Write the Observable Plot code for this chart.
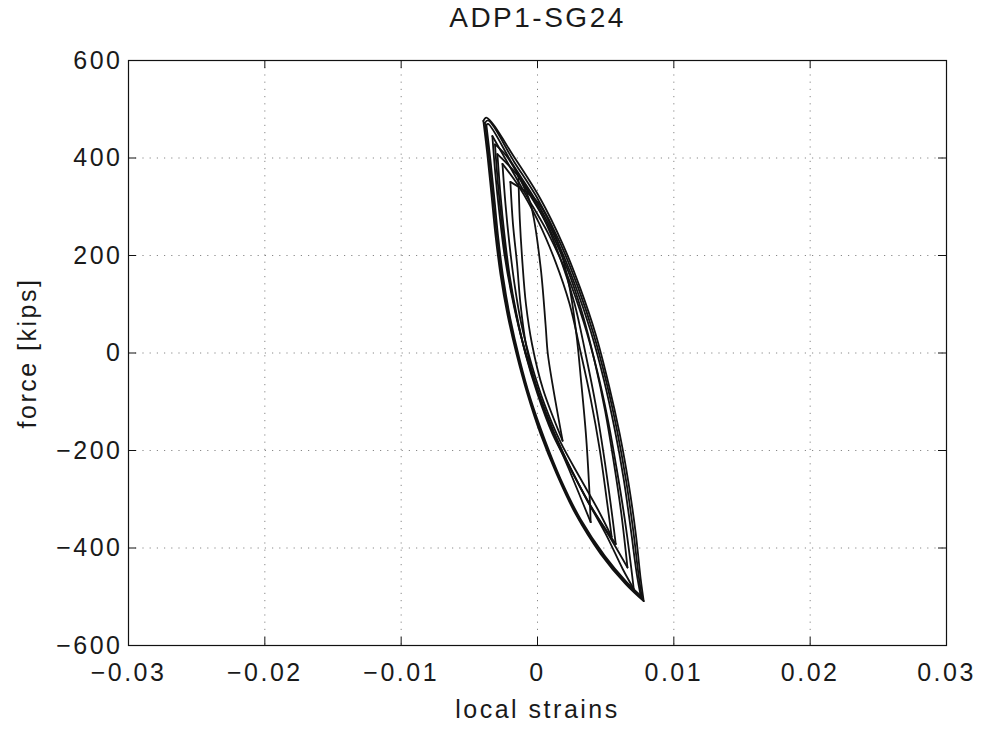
<!DOCTYPE html>
<html>
<head>
<meta charset="utf-8">
<script src="https://cdn.jsdelivr.net/npm/d3@7"></script>
<script src="https://cdn.jsdelivr.net/npm/@observablehq/plot@0.6"></script>
<style>
  html, body { margin: 0; padding: 0; background: #fff; }
  #chart svg text { letter-spacing: 2.5px; }
</style>
</head>
<body>
<div id="chart"></div>
<script>
// ---- labels ----
const title = "ADP1-SG24";
const xLabel = "local strains";
const yLabel = "force [kips]";
const xTicks = [-0.03, -0.02, -0.01, 0, 0.01, 0.02, 0.03];
const yTicks = [-600, -400, -200, 0, 200, 400, 600];

// ---- hysteresis loops: [strain, force], branch "down" then "up" ----
const loop1Down = [[-0.00397,476],[-0.00368,408],[-0.00338,326],[-0.00309,244],[-0.00272,162],[-0.00221,80],[-0.00154,-2],[-0.00074,-84],[0.00022,-166],[0.00140,-248],[0.00279,-330],[0.00463,-412],[0.00647,-474],[0.00779,-509]];
const loop1Up   = [[0.00779,-509],[0.00757,-464],[0.00721,-371],[0.00669,-269],[0.00603,-166],[0.00522,-64],[0.00426,39],[0.00316,131],[0.00184,224],[0.00022,316],[-0.00162,398],[-0.00375,483],[-0.00397,476]];

const loop8Down = [[-0.00386,472],[-0.00357,403],[-0.00327,321],[-0.00298,239],[-0.00261,157],[-0.00210,75],[-0.00143,-7],[-0.00062,-89],[0.00036,-171],[0.00155,-253],[0.00297,-336],[0.00478,-414],[0.00650,-472],[0.00768,-504]];
const loop8Up   = [[0.00768,-504],[0.00743,-459],[0.00703,-366],[0.00651,-264],[0.00585,-161],[0.00504,-58],[0.00408,42],[0.00298,134],[0.00166,226],[0.00004,315],[-0.00173,393],[-0.00362,477],[-0.00386,472]];

const loop2Down = [[-0.00375,468],[-0.00346,398],[-0.00316,316],[-0.00287,234],[-0.00250,152],[-0.00199,70],[-0.00132,-12],[-0.00051,-94],[0.00051,-176],[0.00169,-258],[0.00316,-341],[0.00493,-416],[0.00654,-470],[0.00757,-498]];
const loop2Up   = [[0.00757,-498],[0.00728,-453],[0.00684,-361],[0.00632,-258],[0.00566,-156],[0.00485,-53],[0.00390,45],[0.00279,137],[0.00147,228],[-0.00015,314],[-0.00184,388],[-0.00362,470],[-0.00375,468]];

const loop3Down = [[-0.00331,445],[-0.00309,367],[-0.00279,285],[-0.00243,203],[-0.00191,121],[-0.00125,39],[-0.00037,-43],[0.00066,-125],[0.00191,-207],[0.00338,-289],[0.00500,-371],[0.00625,-443],[0.00706,-484]];
const loop3Up   = [[0.00706,-484],[0.00684,-433],[0.00640,-341],[0.00581,-238],[0.00515,-135],[0.00434,-33],[0.00338,64],[0.00221,158],[0.00081,244],[-0.00088,326],[-0.00235,398],[-0.00331,445]];

const loop9Down = [[-0.00312,428],[-0.00290,347],[-0.00261,265],[-0.00225,183],[-0.00173,101],[-0.00107,19],[-0.00019,-63],[0.00088,-145],[0.00217,-222],[0.00371,-305],[0.00540,-382],[0.00660,-440]];
const loop9Up   = [[0.00660,-440],[0.00615,-330],[0.00560,-225],[0.00497,-120],[0.00420,-18],[0.00330,80],[0.00215,175],[0.00075,262],[-0.00090,340],[-0.00230,405],[-0.00312,428]];

const loop4Down = [[-0.00294,408],[-0.00272,326],[-0.00243,244],[-0.00206,162],[-0.00154,80],[-0.00088,-2],[0.00000,-84],[0.00110,-166],[0.00243,-238],[0.00404,-320],[0.00574,-392]];
const loop4Up   = [[0.00574,-392],[0.00537,-310],[0.00485,-207],[0.00426,-105],[0.00353,-2],[0.00272,101],[0.00169,193],[0.00037,281],[-0.00125,357],[-0.00294,408]];

const loop5Down = [[-0.00257,388],[-0.00235,306],[-0.00206,224],[-0.00169,142],[-0.00118,59],[-0.00044,-23],[0.00051,-105],[0.00169,-183],[0.00316,-258],[0.00441,-320],[0.00544,-377]];
const loop5Up   = [[0.00544,-377],[0.00507,-299],[0.00456,-197],[0.00390,-94],[0.00316,2],[0.00235,101],[0.00132,187],[0.00007,269],[-0.00140,343],[-0.00257,388]];

const loop6Down = [[-0.00199,351],[-0.00180,265],[-0.00150,183],[-0.00125,101],[-0.00085,18],[-0.00015,-64],[0.00090,-146],[0.00230,-238],[0.00390,-347]];
const loop6Up   = [[0.00390,-347],[0.00378,-269],[0.00355,-166],[0.00322,-64],[0.00285,39],[0.00230,142],[0.00140,234],[0.00000,310],[-0.00199,351]];

const loop7Down = [[-0.00140,363],[-0.00130,275],[-0.00110,183],[-0.00085,101],[-0.00040,18],[0.00040,-74],[0.00184,-180]];
const loop7Up   = [[0.00184,-180],[0.00110,-64],[0.00075,0],[0.00059,59],[0.00020,183],[-0.00051,306],[-0.00140,363]];

const branches = {
  "1d": loop1Down, "1u": loop1Up, "8d": loop8Down, "8u": loop8Up,
  "2d": loop2Down, "2u": loop2Up, "3d": loop3Down, "3u": loop3Up,
  "9d": loop9Down, "9u": loop9Up, "4d": loop4Down, "4u": loop4Up,
  "5d": loop5Down, "5u": loop5Up, "6d": loop6Down, "6u": loop6Up,
  "7d": loop7Down, "7u": loop7Up
};
const rows = [];
for (const [k, pts] of Object.entries(branches)) {
  for (const [x, y] of pts) rows.push({branch: k, x, y});
}

const fmt = d => d === 0 ? "0" : (d < 0 ? "\u2212" : "") + Math.abs(d).toFixed(2);
const fmtY = d => d === 0 ? "0" : (d < 0 ? "\u2212" : "") + Math.abs(d);

const W = 988, H = 730, mL = 128, mR = 42, mT = 60, mB = 85;
const tickLen = 8;
const innerW = W - mL - mR, innerH = H - mT - mB;

const chart = Plot.plot({
  width: W,
  height: H,
  marginLeft: mL,
  marginRight: mR,
  marginTop: mT,
  marginBottom: mB,
  style: {fontFamily: "'Liberation Sans', Arial, Helvetica, sans-serif", fontSize: "25px", color: "#1a1a1a", background: "#fff"},
  x: {domain: [-0.03, 0.03]},
  y: {domain: [-600, 600]},
  marks: [
    Plot.gridX(xTicks, {stroke: "#555", strokeOpacity: 0.7, strokeDasharray: "1.2,6"}),
    Plot.gridY(yTicks, {stroke: "#555", strokeOpacity: 0.7, strokeDasharray: "1.2,6"}),
    Plot.line(rows, {x: "x", y: "y", z: "branch", stroke: "#111", strokeWidth: 1.8, curve: "catmull-rom"}),
    Plot.frame({stroke: "#111", strokeWidth: 1.2}),
    // inward ticks on all four sides
    Plot.tickX(xTicks, {x: d => d, insetTop: innerH - tickLen, stroke: "#111"}),
    Plot.tickX(xTicks, {x: d => d, insetBottom: innerH - tickLen, stroke: "#111"}),
    Plot.tickY(yTicks, {y: d => d, insetRight: innerW - tickLen, stroke: "#111"}),
    Plot.tickY(yTicks, {y: d => d, insetLeft: innerW - tickLen, stroke: "#111"}),
    // tick labels and axis titles
    Plot.axisX(xTicks, {anchor: "bottom", tickSize: 0, tickPadding: 18, tickFormat: fmt, fontSize: 25,
      label: xLabel, labelAnchor: "center", labelOffset: 72, labelArrow: "none"}),
    Plot.axisY(yTicks, {anchor: "left", tickSize: 0, tickPadding: 6, tickFormat: fmtY, fontSize: 25,
      label: yLabel, labelAnchor: "center", labelOffset: 110, labelArrow: "none"}),
    Plot.text([title], {frameAnchor: "top", dy: -53, fontSize: 28, fill: "#1a1a1a"})
  ]
});
document.getElementById("chart").appendChild(chart);
</script>
</body>
</html>
